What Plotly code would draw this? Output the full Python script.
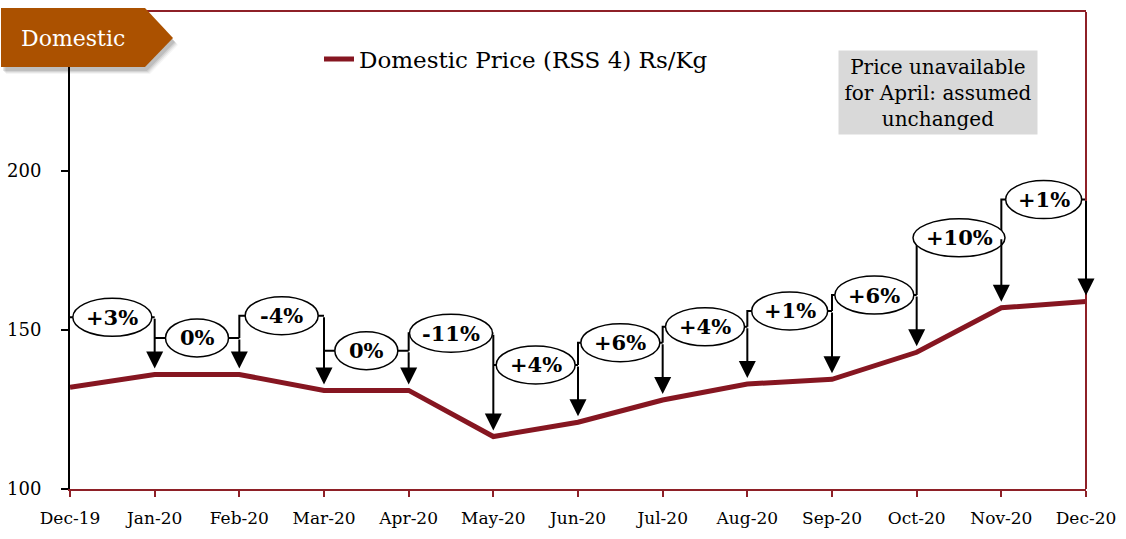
import plotly.graph_objects as go

# ---- data -------------------------------------------------------------
months = ["Dec-19", "Jan-20", "Feb-20", "Mar-20", "Apr-20", "May-20", "Jun-20",
          "Jul-20", "Aug-20", "Sep-20", "Oct-20", "Nov-20", "Dec-20"]
price = [132, 136, 136, 131, 131, 116.5, 121, 128, 133, 134.5, 143, 157, 159]
y_ticks = [100, 150, 200]

# ---- layout helpers ---------------------------------------------------
W, H = 1126, 539
M_L, M_R, M_T, M_B = 70, 40, 12, 50
PW, PH = W - M_L - M_R, H - M_T - M_B

LINE_RED = "#861621"
BORDER_RED = "#8E2027"
BADGE = "#AB5100"
SERIF = "DejaVu Serif"

# height (in Rs/Kg) of the bracket carrying each month-on-month change label
bracket_level = [154, 147.5, 154.5, 143.5, 149, 139, 146, 151, 156, 161, 179, 191]


def px_x(px):
    return (px - M_L) / PW


def px_y(py):
    return (H - M_B - py) / PH


def pct_label(a, b):
    p = round((b - a) / a * 100)
    return "0%" if p == 0 else f"{p:+d}%"


CHAR_W = {"+": 16, "-": 10, "%": 25, "1": 13}


def ellipse_width(text):
    return 22 + sum(CHAR_W.get(c, 16) for c in text)


x = list(range(len(months)))

fig = go.Figure()
fig.add_trace(go.Scatter(
    x=x, y=price, mode="lines",
    line=dict(color=LINE_RED, width=5),
    name="Domestic Price (RSS 4) Rs/Kg",
))

shapes = []
annotations = []

# brackets, ellipses and arrows for each monthly change
for i in range(1, len(price)):
    x0, x1 = x[i - 1], x[i]
    h = bracket_level[i - 1]
    prev_h = bracket_level[i - 2] if i > 1 else h
    riser_bottom = prev_h if h > prev_h else h
    shapes.append(dict(
        type="path", xref="x", yref="y",
        path=f"M {x0},{riser_bottom} L {x0},{h} L {x1},{h}",
        line=dict(color="black", width=2), layer="above",
    ))

for i in range(1, len(price)):
    x0, x1 = x[i - 1], x[i]
    h = bracket_level[i - 1]
    label = pct_label(price[i - 1], price[i])
    w = ellipse_width(label)
    xc = (x0 + x1) / 2
    shapes.append(dict(
        type="circle", xref="x", yref="y",
        xsizemode="pixel", ysizemode="pixel",
        xanchor=xc, yanchor=h,
        x0=-w / 2, x1=w / 2, y0=-19, y1=19,
        fillcolor="white", line=dict(color="black", width=1.5), layer="above",
    ))
    annotations.append(dict(
        x=xc, y=h, xref="x", yref="y", text=f"<b>{label}</b>", showarrow=False,
        xanchor="center", yanchor="middle",
        font=dict(family=SERIF, size=21, color="black"),
    ))
    annotations.append(dict(
        x=x1, y=price[i], xref="x", yref="y",
        ax=x1, ay=h, axref="x", ayref="y",
        text="", showarrow=True, arrowhead=2, arrowsize=1.7, arrowwidth=2,
        arrowcolor="black", standoff=6,
    ))

# right border of the plot frame
shapes.append(dict(type="line", xref="paper", yref="paper", x0=1, x1=1, y0=0, y1=1,
                   line=dict(color=BORDER_RED, width=2), layer="above"))

# section badge with a soft shadow
badge_pts = [(1, 8), (145, 8), (173, 38), (145, 67), (1, 67)]


def badge_path(dx, dy):
    pts = [(px_x(a + dx), px_y(b + dy)) for a, b in badge_pts]
    return "M " + " L ".join(f"{a},{b}" for a, b in pts) + " Z"


for k, alpha in [(7, 0.04), (6, 0.06), (5, 0.08), (4, 0.10)]:
    shapes.append(dict(type="path", xref="paper", yref="paper", path=badge_path(k - 2, k),
                       fillcolor=f"rgba(0,0,0,{alpha})", line=dict(width=0), layer="above"))
shapes.append(dict(type="path", xref="paper", yref="paper", path=badge_path(0, 0),
                   fillcolor=BADGE, line=dict(width=0), layer="above"))

annotations.append(dict(
    x=px_x(73), y=px_y(39), xref="paper", yref="paper", text="Domestic",
    xanchor="center", yanchor="middle",
    showarrow=False, font=dict(family=SERIF, size=22, color="white"),
))

# note box
annotations.append(dict(
    x=px_x(938), y=px_y(93), xref="paper", yref="paper",
    xanchor="center", yanchor="middle",
    text="Price unavailable<br>for April: assumed<br>unchanged",
    showarrow=False, align="center", bgcolor="#D9D9D9", width=196, height=81,
    font=dict(family=SERIF, size=20, color="black"),
))

fig.update_layout(
    width=W, height=H,
    margin=dict(l=M_L, r=M_R, t=M_T, b=M_B, autoexpand=False),
    paper_bgcolor="white", plot_bgcolor="white",
    showlegend=True,
    legend=dict(
        orientation="h", x=px_x(319), y=px_y(59), xanchor="left", yanchor="middle",
        font=dict(family=SERIF, size=23, color="black"), bgcolor="rgba(0,0,0,0)",
    ),
    shapes=shapes,
    annotations=annotations,
    xaxis=dict(
        range=[0, 12], tickvals=x, ticktext=months, automargin=False,
        showline=True, linecolor=BORDER_RED, linewidth=2, mirror=True,
        ticks="outside", ticklen=6, tickcolor=BORDER_RED, tickwidth=1.5,
        showgrid=False, zeroline=False,
        tickfont=dict(family=SERIF, size=17, color="black"),
        ticklabelstandoff=7,
    ),
    yaxis=dict(
        range=[100, 250], tickvals=y_ticks, automargin=False,
        showline=True, linecolor="black", linewidth=2,
        ticks="outside", ticklen=7, tickcolor="black", tickwidth=1.5,
        showgrid=False, zeroline=False,
        tickfont=dict(family=SERIF, size=18, color="black"),
        ticklabelstandoff=16,
    ),
)

fig.write_html("out.html")
